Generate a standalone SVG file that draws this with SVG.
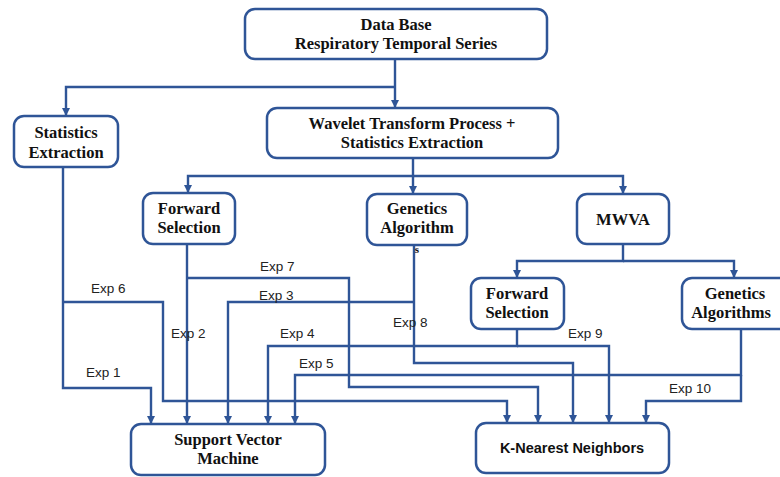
<svg xmlns="http://www.w3.org/2000/svg" width="780" height="477" viewBox="0 0 780 477">
<style>
.box{fill:#fff;stroke:#2F5597;stroke-width:2.5}
.t{font-family:"Liberation Serif","Times New Roman",serif;font-weight:bold;font-size:16.5px;fill:#111;text-anchor:middle}
.ts{font-family:"Liberation Sans",Arial,sans-serif;font-weight:bold;font-size:14.5px;fill:#111;text-anchor:middle}
.c{fill:none;stroke:#2F5597;stroke-width:2.4}
.lbl{font-family:"Liberation Sans",Arial,sans-serif;font-size:13.5px;fill:#222}
</style>
<defs>
<marker id="ah" markerUnits="userSpaceOnUse" markerWidth="8" markerHeight="8" refX="8" refY="4" orient="auto">
<path d="M0,0 L8,4 L0,8 z" fill="#2F5597"/>
</marker>
</defs>
<rect width="780" height="477" fill="#fff"/>
<g id="connectors">
<path class="c" marker-end="url(#ah)" d="M395 59 V108"/>
<path class="c" marker-end="url(#ah)" d="M395 87 H66 V116"/>
<path class="c" marker-end="url(#ah)" d="M413 158 V176 H188 V193"/>
<path class="c" marker-end="url(#ah)" d="M413 176 V194"/>
<path class="c" marker-end="url(#ah)" d="M413 176 H623 V194"/>
<path class="c" marker-end="url(#ah)" d="M623 244 V261 H517 V278"/>
<path class="c" marker-end="url(#ah)" d="M623 261 H734 V278"/>
<path class="c" marker-end="url(#ah)" d="M63 167 V388 H151 V424"/>
<path class="c" marker-end="url(#ah)" d="M63 302 H163 V401 H507 V423"/>
<path class="c" marker-end="url(#ah)" d="M187 244 V424"/>
<path class="c" marker-end="url(#ah)" d="M187 278 H349 V387 H538 V423"/>
<path class="c" marker-end="url(#ah)" d="M414 302 H228 V424"/>
<path class="c" marker-end="url(#ah)" d="M414 245 V363 H573 V423"/>
<path class="c" marker-end="url(#ah)" d="M517 329 V346 H268 V424"/>
<path class="c" marker-end="url(#ah)" d="M517 346 H609 V423"/>
<path class="c" marker-end="url(#ah)" d="M741 329 V375 H295 V424"/>
<path class="c" marker-end="url(#ah)" d="M741 375 V401 H646 V423"/>
<text class="lbl" x="86" y="377">Exp 1</text>
<text class="lbl" x="171" y="338">Exp 2</text>
<text class="lbl" x="259" y="300">Exp 3</text>
<text class="lbl" x="280" y="338">Exp 4</text>
<text class="lbl" x="299" y="368">Exp 5</text>
<text class="lbl" x="91" y="293">Exp 6</text>
<text class="lbl" x="260" y="271">Exp 7</text>
<text class="lbl" x="393" y="327">Exp 8</text>
<text class="lbl" x="568" y="338">Exp 9</text>
<text class="lbl" x="669" y="393">Exp 10</text>
</g>
<g id="database">
<rect class="box" x="245" y="9" width="302" height="50" rx="10"/>
<text class="t" x="396" y="30">Data Base</text>
<text class="t" x="396" y="49">Respiratory Temporal Series</text>
</g>
<g id="stats">
<rect class="box" x="14" y="116" width="104" height="51" rx="10"/>
<text class="t" x="66" y="138">Statistics</text>
<text class="t" x="66" y="158">Extraction</text>
</g>
<g id="wavelet">
<rect class="box" x="267" y="108" width="291" height="50" rx="10"/>
<text class="t" x="412" y="129">Wavelet Transform Process +</text>
<text class="t" x="412" y="148">Statistics Extraction</text>
</g>
<g id="fs1">
<rect class="box" x="143" y="193" width="92" height="51" rx="10"/>
<text class="t" x="189" y="214">Forward</text>
<text class="t" x="189" y="233">Selection</text>
</g>
<g id="ga1">
<rect class="box" x="367" y="194" width="100" height="51" rx="10"/>
<text class="t" x="417" y="214">Genetics</text>
<text class="t" x="417" y="233">Algorithm</text>
<text class="t" x="417" y="253" style="font-size:11px">s</text>
</g>
<g id="mwva">
<rect class="box" x="577" y="194" width="92" height="50" rx="10"/>
<text class="t" x="623" y="225">MWVA</text>
</g>
<g id="fs2">
<rect class="box" x="471" y="278" width="93" height="51" rx="10"/>
<text class="t" x="517" y="299">Forward</text>
<text class="t" x="517" y="318">Selection</text>
</g>
<g id="ga2">
<rect class="box" x="682" y="278" width="110" height="51" rx="10"/>
<text class="t" x="735" y="299">Genetics</text>
<text class="t" x="731" y="318">Algorithms</text>
</g>
<g id="svm">
<rect class="box" x="131" y="424" width="194" height="51" rx="10"/>
<text class="t" x="228" y="445">Support Vector</text>
<text class="t" x="228" y="464">Machine</text>
</g>
<g id="knn">
<rect class="box" x="476" y="423" width="193" height="50" rx="10"/>
<text class="ts" x="572" y="453">K-Nearest Neighbors</text>
</g>
</svg>
